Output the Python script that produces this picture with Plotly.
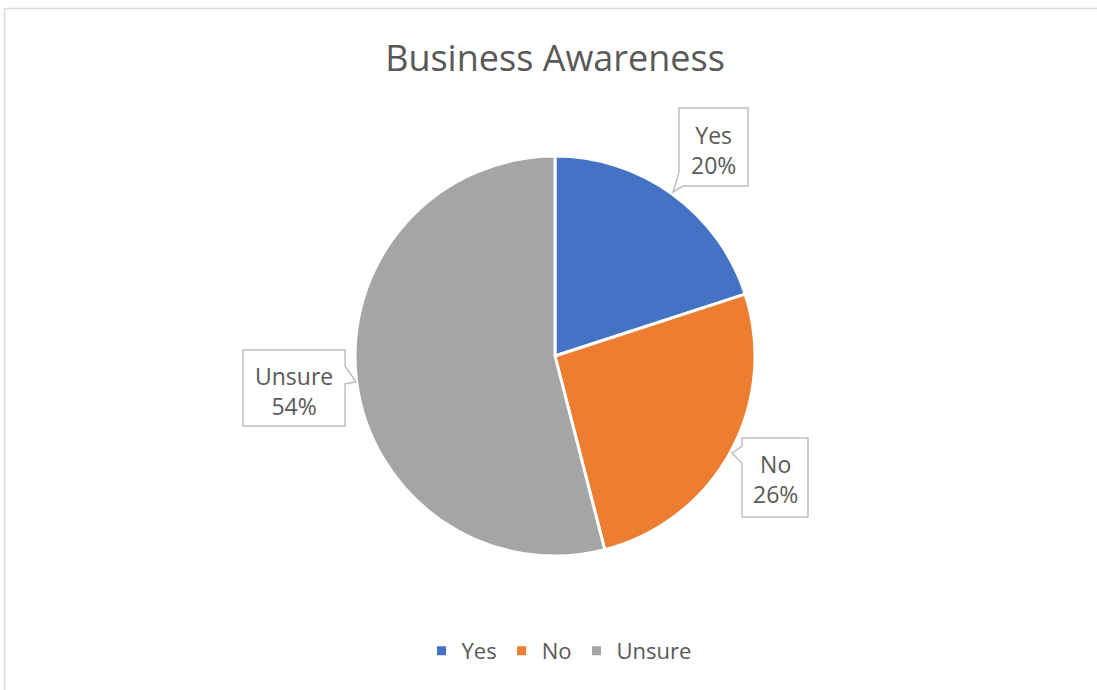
import plotly.graph_objects as go

labels = ["Yes", "No", "Unsure"]
values = [20, 26, 54]
colors = ["#4472C4", "#ED7D31", "#A5A5A5"]
title_text = "Business Awareness"

W, H = 1097, 690
OFF = 0
TXT = "#595959"
FONT = "Open Sans"

def px(x):
    return (x - OFF) / W

def py(y):
    return 1 - (y - OFF) / H

def path(points):
    return "M " + " L ".join(f"{px(x):.5f},{py(y):.5f}" for x, y in points) + " Z"

fig = go.Figure()
fig.add_trace(go.Pie(
    labels=labels, values=values, sort=False, direction="clockwise", rotation=0,
    marker=dict(colors=colors, line=dict(color="white", width=3)),
    textinfo="none", hoverinfo="label+percent",
    domain=dict(x=[px(355), px(755)], y=[py(556), py(156)]),
))

# callout boxes (decorative)
callouts = [
    [(679, 108), (748, 108), (748, 186), (683, 186), (673, 192), (679, 172)],
    [(243, 350), (345, 350), (345, 366), (356, 382), (345, 384), (345, 426), (243, 426)],
    [(742, 438), (808, 438), (808, 517), (742, 517), (742, 463), (732, 453), (742, 446)],
]
shapes = [dict(type="rect", xref="paper", yref="paper", x0=px(4.5), y0=py(710), x1=px(1110), y1=py(8.5),
               line=dict(color="#D9D9D9", width=1.5), fillcolor="rgba(0,0,0,0)", layer="below")]
for pts in callouts:
    shapes.append(dict(type="path", xref="paper", yref="paper", path=path(pts),
                       line=dict(color="#BFBFBF", width=1.5), fillcolor="white", layer="above"))

total = sum(values)
label_pos = {"Yes": (713, 150), "No": (775, 479), "Unsure": (294, 391)}
annotations = []
for lab, v in zip(labels, values):
    x, y = label_pos[lab]
    annotations.append(dict(
        x=px(x), y=py(y), xref="paper", yref="paper", showarrow=False,
        text=f"{lab}<br>{round(100 * v / total)}%", align="center",
        font=dict(family=FONT, size=23, color=TXT), xanchor="center", yanchor="middle",
    ))

fig.update_layout(
    width=W, height=H,
    margin=dict(l=0, r=0, t=0, b=0),
    paper_bgcolor="white", plot_bgcolor="white",
    title=dict(text=title_text, x=px(555), xanchor="center", y=py(58), yanchor="middle",
               font=dict(family=FONT, size=36, color=TXT)),
    showlegend=True,
    legend=dict(orientation="h", x=px(559), xanchor="center", y=py(651), yanchor="middle",
                font=dict(family=FONT, size=22, color=TXT), traceorder="normal"),
    shapes=shapes,
    annotations=annotations,
)

fig.write_html("out.html", config={"displayModeBar": False},
               post_script="document.body.style.margin='0';")
